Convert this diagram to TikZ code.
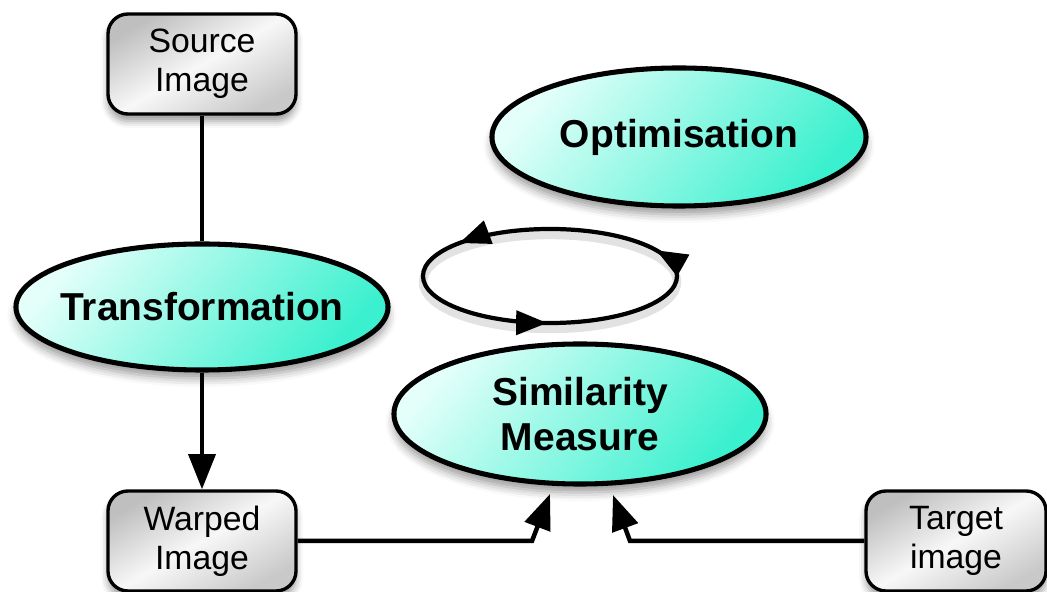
\documentclass[tikz,border=0pt]{standalone}
\usepackage{fontspec}
\setmainfont{Liberation Sans}
\usetikzlibrary{arrows.meta, shapes.geometric, shadows.blur, decorations.markings}

\definecolor{aqua}{RGB}{58,240,206}
\definecolor{aqualight}{RGB}{228,255,250}

\begin{document}
\begin{tikzpicture}[x=0.025cm, y=0.025cm,
    box/.style={draw, line width=2.4pt, rounded corners=0.5cm, align=center,
        minimum width=4.7cm, minimum height=2.5cm,
        top color=gray!50, bottom color=gray!42, middle color=gray!6, shading angle=30,
        font=\fontsize{24}{27.5}\selectfont,
        blur shadow={shadow xshift=0pt, shadow yshift=-5pt, shadow blur radius=5pt}},
    blob/.style={draw, ellipse, line width=3.6pt, inner xsep=-10pt, inner ysep=0pt, align=center,
        top color=aqualight, middle color=aqua!75!white, bottom color=aqua, shading angle=50,
        font=\bfseries\fontsize{27.7}{32}\selectfont,
        blur shadow={shadow xshift=0pt, shadow yshift=-6pt, shadow blur radius=6pt}},
    link/.style={line width=3.2pt, -{Triangle[length=25pt, width=19pt]}},
    looptip/.tip={Triangle[length=22pt, width=17pt]}]

    \useasboundingbox (0,0) rectangle (1047,592);

    % images
    \node[box] (src) at (202,528) {Source\\Image};
    \node[box] (warped) at (202,51) {Warped\\Image};
    \node[box, minimum width=4.5cm] (target) at (956,51) {Target\\image};

    % stages
    \node[blob, minimum width=9.3cm, minimum height=3.15cm] (trans) at (202,285) {Transformation};
    \node[blob, minimum width=9.35cm, minimum height=3.45cm] (optim) at (679,455) {Optimisation};
    \node[blob, minimum width=9.3cm, minimum height=3.5cm] (simil) at (580,178) {Similarity\\Measure};

    % loop
    \draw[gray!45, opacity=0.5, line width=6pt] (550,310) ellipse [x radius=3.175cm, y radius=1.175cm];
    \draw[line width=3pt, postaction={decorate}, decoration={markings,
        mark=at position 0.06 with {\arrow{looptip}},
        mark=at position 0.41 with {\arrow{looptip}},
        mark=at position 0.745 with {\arrow{looptip}}}]
        (550,316) ellipse [x radius=3.175cm, y radius=1.175cm];

    % links
    \coordinate (wbend) at (532,51);
    \coordinate (wtip) at (550,98);
    \coordinate (tbend) at (630,51);
    \coordinate (ttip) at (613,97);

    \draw[line width=3.2pt] (src) -- (trans);
    \draw[link] (trans) -- (warped);
    \draw[link] (warped) -- (wbend) -- (wtip);
    \draw[link] (target) -- (tbend) -- (ttip);
\end{tikzpicture}
\end{document}
